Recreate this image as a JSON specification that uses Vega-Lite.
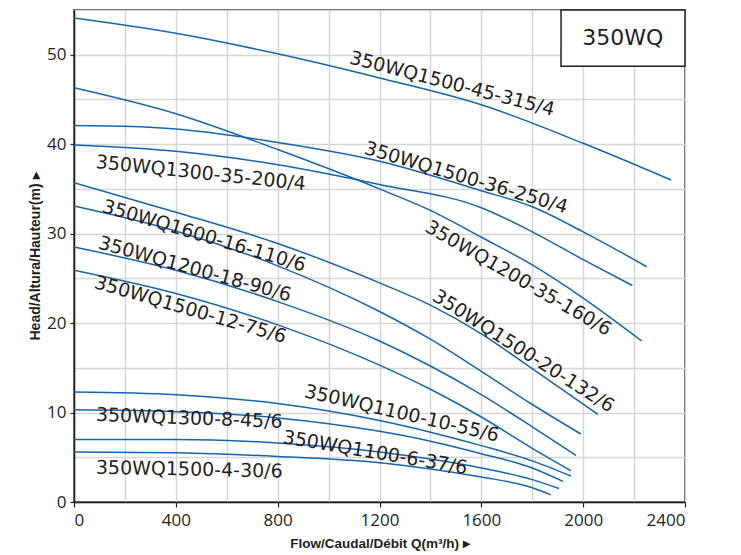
{
  "$schema": "https://vega.github.io/schema/vega-lite/v6.json",
  "width": 611,
  "height": 492,
  "autosize": {"type": "none"},
  "padding": {"left": 74, "top": 10, "right": 56, "bottom": 53},
  "background": "white",
  "config": {
    "view": {"stroke": "#231f20", "strokeWidth": 1.5},
    "font": "DejaVu Sans"
  },
  "datasets": {
    "curves": [
      {"pump": "350WQ1500-45-315/4", "Q": 0, "H": 54.1},
      {"pump": "350WQ1500-45-315/4", "Q": 400, "H": 52.4},
      {"pump": "350WQ1500-45-315/4", "Q": 800, "H": 50.1},
      {"pump": "350WQ1500-45-315/4", "Q": 1200, "H": 47.4},
      {"pump": "350WQ1500-45-315/4", "Q": 1600, "H": 44.4},
      {"pump": "350WQ1500-45-315/4", "Q": 2000, "H": 40.1},
      {"pump": "350WQ1500-45-315/4", "Q": 2345, "H": 36.0},
      {"pump": "350WQ1500-36-250/4", "Q": 0, "H": 42.1},
      {"pump": "350WQ1500-36-250/4", "Q": 200, "H": 42.0},
      {"pump": "350WQ1500-36-250/4", "Q": 400, "H": 41.7},
      {"pump": "350WQ1500-36-250/4", "Q": 650, "H": 40.85},
      {"pump": "350WQ1500-36-250/4", "Q": 800, "H": 40.2},
      {"pump": "350WQ1500-36-250/4", "Q": 1200, "H": 38.1},
      {"pump": "350WQ1500-36-250/4", "Q": 1600, "H": 34.8},
      {"pump": "350WQ1500-36-250/4", "Q": 1800, "H": 33.0},
      {"pump": "350WQ1500-36-250/4", "Q": 2000, "H": 30.2},
      {"pump": "350WQ1500-36-250/4", "Q": 2250, "H": 26.3},
      {"pump": "350WQ1300-35-200/4", "Q": 0, "H": 39.9},
      {"pump": "350WQ1300-35-200/4", "Q": 400, "H": 39.2},
      {"pump": "350WQ1300-35-200/4", "Q": 800, "H": 37.7},
      {"pump": "350WQ1300-35-200/4", "Q": 1200, "H": 35.5},
      {"pump": "350WQ1300-35-200/4", "Q": 1600, "H": 32.9},
      {"pump": "350WQ1300-35-200/4", "Q": 1800, "H": 30.2},
      {"pump": "350WQ1300-35-200/4", "Q": 2000, "H": 27.1},
      {"pump": "350WQ1300-35-200/4", "Q": 2193, "H": 24.2},
      {"pump": "350WQ1200-35-160/6", "Q": 0, "H": 46.3},
      {"pump": "350WQ1200-35-160/6", "Q": 400, "H": 43.4},
      {"pump": "350WQ1200-35-160/6", "Q": 800, "H": 39.4},
      {"pump": "350WQ1200-35-160/6", "Q": 1200, "H": 35.0},
      {"pump": "350WQ1200-35-160/6", "Q": 1400, "H": 32.6},
      {"pump": "350WQ1200-35-160/6", "Q": 1600, "H": 29.6},
      {"pump": "350WQ1200-35-160/6", "Q": 1800, "H": 26.5},
      {"pump": "350WQ1200-35-160/6", "Q": 2000, "H": 22.8},
      {"pump": "350WQ1200-35-160/6", "Q": 2230, "H": 18.0},
      {"pump": "350WQ1500-20-132/6", "Q": 0, "H": 35.7},
      {"pump": "350WQ1500-20-132/6", "Q": 400, "H": 32.4},
      {"pump": "350WQ1500-20-132/6", "Q": 800, "H": 28.9},
      {"pump": "350WQ1500-20-132/6", "Q": 1200, "H": 24.5},
      {"pump": "350WQ1500-20-132/6", "Q": 1400, "H": 22.0},
      {"pump": "350WQ1500-20-132/6", "Q": 1600, "H": 18.8},
      {"pump": "350WQ1500-20-132/6", "Q": 1800, "H": 14.9},
      {"pump": "350WQ1500-20-132/6", "Q": 2058, "H": 9.8},
      {"pump": "350WQ1600-16-110/6", "Q": 0, "H": 33.1},
      {"pump": "350WQ1600-16-110/6", "Q": 400, "H": 30.3},
      {"pump": "350WQ1600-16-110/6", "Q": 800, "H": 26.4},
      {"pump": "350WQ1600-16-110/6", "Q": 1200, "H": 21.3},
      {"pump": "350WQ1600-16-110/6", "Q": 1400, "H": 18.2},
      {"pump": "350WQ1600-16-110/6", "Q": 1600, "H": 14.6},
      {"pump": "350WQ1600-16-110/6", "Q": 1800, "H": 10.9},
      {"pump": "350WQ1600-16-110/6", "Q": 1991, "H": 7.6},
      {"pump": "350WQ1200-18-90/6", "Q": 0, "H": 28.5},
      {"pump": "350WQ1200-18-90/6", "Q": 400, "H": 25.9},
      {"pump": "350WQ1200-18-90/6", "Q": 800, "H": 22.4},
      {"pump": "350WQ1200-18-90/6", "Q": 1200, "H": 18.0},
      {"pump": "350WQ1200-18-90/6", "Q": 1400, "H": 15.2},
      {"pump": "350WQ1200-18-90/6", "Q": 1600, "H": 12.0},
      {"pump": "350WQ1200-18-90/6", "Q": 1800, "H": 8.4},
      {"pump": "350WQ1200-18-90/6", "Q": 1972, "H": 5.2},
      {"pump": "350WQ1500-12-75/6", "Q": 0, "H": 25.9},
      {"pump": "350WQ1500-12-75/6", "Q": 400, "H": 23.3},
      {"pump": "350WQ1500-12-75/6", "Q": 800, "H": 19.8},
      {"pump": "350WQ1500-12-75/6", "Q": 1200, "H": 15.3},
      {"pump": "350WQ1500-12-75/6", "Q": 1400, "H": 12.6},
      {"pump": "350WQ1500-12-75/6", "Q": 1600, "H": 9.5},
      {"pump": "350WQ1500-12-75/6", "Q": 1800, "H": 6.0},
      {"pump": "350WQ1500-12-75/6", "Q": 1952, "H": 3.5},
      {"pump": "350WQ1100-10-55/6", "Q": 0, "H": 12.3},
      {"pump": "350WQ1100-10-55/6", "Q": 400, "H": 12.0},
      {"pump": "350WQ1100-10-55/6", "Q": 800, "H": 11.0},
      {"pump": "350WQ1100-10-55/6", "Q": 1200, "H": 9.1},
      {"pump": "350WQ1100-10-55/6", "Q": 1400, "H": 7.8},
      {"pump": "350WQ1100-10-55/6", "Q": 1600, "H": 6.3},
      {"pump": "350WQ1100-10-55/6", "Q": 1800, "H": 4.6},
      {"pump": "350WQ1100-10-55/6", "Q": 1952, "H": 2.9},
      {"pump": "350WQ1300-8-45/6", "Q": 0, "H": 10.3},
      {"pump": "350WQ1300-8-45/6", "Q": 400, "H": 10.1},
      {"pump": "350WQ1300-8-45/6", "Q": 800, "H": 9.4},
      {"pump": "350WQ1300-8-45/6", "Q": 1200, "H": 7.9},
      {"pump": "350WQ1300-8-45/6", "Q": 1400, "H": 6.8},
      {"pump": "350WQ1300-8-45/6", "Q": 1600, "H": 5.4},
      {"pump": "350WQ1300-8-45/6", "Q": 1800, "H": 3.8},
      {"pump": "350WQ1300-8-45/6", "Q": 1921, "H": 2.3},
      {"pump": "350WQ1100-6-37/6", "Q": 0, "H": 7.0},
      {"pump": "350WQ1100-6-37/6", "Q": 400, "H": 7.0},
      {"pump": "350WQ1100-6-37/6", "Q": 800, "H": 6.6},
      {"pump": "350WQ1100-6-37/6", "Q": 1200, "H": 5.6},
      {"pump": "350WQ1100-6-37/6", "Q": 1400, "H": 4.8},
      {"pump": "350WQ1100-6-37/6", "Q": 1600, "H": 3.8},
      {"pump": "350WQ1100-6-37/6", "Q": 1800, "H": 2.5},
      {"pump": "350WQ1100-6-37/6", "Q": 1905, "H": 1.5},
      {"pump": "350WQ1500-4-30/6", "Q": 0, "H": 5.6},
      {"pump": "350WQ1500-4-30/6", "Q": 400, "H": 5.5},
      {"pump": "350WQ1500-4-30/6", "Q": 800, "H": 5.1},
      {"pump": "350WQ1500-4-30/6", "Q": 1200, "H": 4.4},
      {"pump": "350WQ1500-4-30/6", "Q": 1400, "H": 3.7},
      {"pump": "350WQ1500-4-30/6", "Q": 1600, "H": 2.8},
      {"pump": "350WQ1500-4-30/6", "Q": 1800, "H": 1.6},
      {"pump": "350WQ1500-4-30/6", "Q": 1873, "H": 0.8}
    ],
    "labels": [
      {"pump": "350WQ1500-45-315/4"},
      {"pump": "350WQ1500-36-250/4"},
      {"pump": "350WQ1300-35-200/4"},
      {"pump": "350WQ1200-35-160/6"},
      {"pump": "350WQ1600-16-110/6"},
      {"pump": "350WQ1200-18-90/6"},
      {"pump": "350WQ1500-20-132/6"},
      {"pump": "350WQ1500-12-75/6"},
      {"pump": "350WQ1100-10-55/6"},
      {"pump": "350WQ1300-8-45/6"},
      {"pump": "350WQ1100-6-37/6"},
      {"pump": "350WQ1500-4-30/6"}
    ],
    "box": [{"title": "350WQ"}]
  },
  "layer": [
    {
      "data": {"name": "curves"},
      "mark": {"type": "line", "color": "#1565b0", "strokeWidth": 1.5, "interpolate": "monotone", "clip": true},
      "encoding": {
        "x": {
          "field": "Q", "type": "quantitative",
          "scale": {"domain": [0, 2400], "nice": false, "zero": false},
          "axis": {
            "values": [0, 200, 400, 600, 800, 1000, 1200, 1400, 1600, 1800, 2000, 2200, 2400],
            "format": "d",
            "labelExpr": "datum.value % 400 === 0 ? datum.label : ''",
            "grid": true, "gridColor": "#d6d6d6", "gridWidth": 1.5,
            "tickOpacity": {"condition": {"test": "datum.value % 400 === 0", "value": 1}, "value": 0},
            "tickColor": "#231f20", "tickSize": 5, "tickWidth": 1.2,
            "domainColor": "#231f20", "domainWidth": 1.5,
            "labelFont": "Open Sans", "labelFontSize": 17, "labelColor": "#231f20", "labelPadding": 5,
            "title": "Flow/Caudal/Débit Q(m³/h) ▸",
            "titleFont": "Liberation Sans", "titleFontSize": 13.5, "titleFontWeight": "bold", "titleColor": "#231f20",
            "titlePadding": 8
          }
        },
        "y": {
          "field": "H", "type": "quantitative",
          "scale": {"domain": [0, 55], "nice": false, "zero": false},
          "axis": {
            "values": [0, 5, 10, 15, 20, 25, 30, 35, 40, 45, 50, 55],
            "labelExpr": "datum.value % 10 === 0 ? datum.label : ''",
            "grid": true, "gridColor": "#d6d6d6", "gridWidth": 1.5,
            "tickOpacity": {"condition": {"test": "datum.value % 10 === 0", "value": 1}, "value": 0},
            "tickColor": "#231f20", "tickSize": 4, "tickWidth": 1.2,
            "domainColor": "#231f20", "domainWidth": 1.5,
            "labelFont": "Open Sans", "labelFontSize": 17, "labelColor": "#231f20", "labelPadding": 4,
            "title": "Head/Altura/Hauteur(m) ▸",
            "titleFont": "Liberation Sans", "titleFontSize": 14, "titleFontWeight": "bold", "titleColor": "#231f20",
            "titlePadding": 4
          }
        },
        "detail": {"field": "pump"}
      }
    },
    {
      "data": {"name": "labels"},
      "transform": [{"filter": "datum.pump === '350WQ1500-45-315/4'"}],
      "mark": {"type": "text", "angle": 14.5, "align": "left", "baseline": "middle", "fontSize": 19, "font": "DejaVu Sans", "color": "#231f20"},
      "encoding": {"x": {"datum": 1084}, "y": {"datum": 49.7}, "text": {"field": "pump"}}
    },
    {
      "data": {"name": "labels"},
      "transform": [{"filter": "datum.pump === '350WQ1500-36-250/4'"}],
      "mark": {"type": "text", "angle": 16.5, "align": "left", "baseline": "middle", "fontSize": 19, "font": "DejaVu Sans", "color": "#231f20"},
      "encoding": {"x": {"datum": 1143}, "y": {"datum": 39.6}, "text": {"field": "pump"}}
    },
    {
      "data": {"name": "labels"},
      "transform": [{"filter": "datum.pump === '350WQ1300-35-200/4'"}],
      "mark": {"type": "text", "angle": 6, "align": "left", "baseline": "middle", "fontSize": 19, "font": "DejaVu Sans", "color": "#231f20"},
      "encoding": {"x": {"datum": 86}, "y": {"datum": 38.0}, "text": {"field": "pump"}}
    },
    {
      "data": {"name": "labels"},
      "transform": [{"filter": "datum.pump === '350WQ1200-35-160/6'"}],
      "mark": {"type": "text", "angle": 30, "align": "left", "baseline": "middle", "fontSize": 19, "font": "DejaVu Sans", "color": "#231f20"},
      "encoding": {"x": {"datum": 1387}, "y": {"datum": 30.9}, "text": {"field": "pump"}}
    },
    {
      "data": {"name": "labels"},
      "transform": [{"filter": "datum.pump === '350WQ1600-16-110/6'"}],
      "mark": {"type": "text", "angle": 16.5, "align": "left", "baseline": "middle", "fontSize": 19, "font": "DejaVu Sans", "color": "#231f20"},
      "encoding": {"x": {"datum": 114}, "y": {"datum": 33.1}, "text": {"field": "pump"}}
    },
    {
      "data": {"name": "labels"},
      "transform": [{"filter": "datum.pump === '350WQ1200-18-90/6'"}],
      "mark": {"type": "text", "angle": 15.5, "align": "left", "baseline": "middle", "fontSize": 19, "font": "DejaVu Sans", "color": "#231f20"},
      "encoding": {"x": {"datum": 98}, "y": {"datum": 29.0}, "text": {"field": "pump"}}
    },
    {
      "data": {"name": "labels"},
      "transform": [{"filter": "datum.pump === '350WQ1500-20-132/6'"}],
      "mark": {"type": "text", "angle": 32.5, "align": "left", "baseline": "middle", "fontSize": 19, "font": "DejaVu Sans", "color": "#231f20"},
      "encoding": {"x": {"datum": 1416}, "y": {"datum": 23.2}, "text": {"field": "pump"}}
    },
    {
      "data": {"name": "labels"},
      "transform": [{"filter": "datum.pump === '350WQ1500-12-75/6'"}],
      "mark": {"type": "text", "angle": 16.2, "align": "left", "baseline": "middle", "fontSize": 19, "font": "DejaVu Sans", "color": "#231f20"},
      "encoding": {"x": {"datum": 82}, "y": {"datum": 24.6}, "text": {"field": "pump"}}
    },
    {
      "data": {"name": "labels"},
      "transform": [{"filter": "datum.pump === '350WQ1100-10-55/6'"}],
      "mark": {"type": "text", "angle": 13, "align": "left", "baseline": "middle", "fontSize": 19, "font": "DejaVu Sans", "color": "#231f20"},
      "encoding": {"x": {"datum": 907}, "y": {"datum": 12.4}, "text": {"field": "pump"}}
    },
    {
      "data": {"name": "labels"},
      "transform": [{"filter": "datum.pump === '350WQ1300-8-45/6'"}],
      "mark": {"type": "text", "angle": 2.2, "align": "left", "baseline": "middle", "fontSize": 19, "font": "DejaVu Sans", "color": "#231f20"},
      "encoding": {"x": {"datum": 86}, "y": {"datum": 9.75}, "text": {"field": "pump"}}
    },
    {
      "data": {"name": "labels"},
      "transform": [{"filter": "datum.pump === '350WQ1100-6-37/6'"}],
      "mark": {"type": "text", "angle": 9.6, "align": "left", "baseline": "middle", "fontSize": 19, "font": "DejaVu Sans", "color": "#231f20"},
      "encoding": {"x": {"datum": 821}, "y": {"datum": 7.25}, "text": {"field": "pump"}}
    },
    {
      "data": {"name": "labels"},
      "transform": [{"filter": "datum.pump === '350WQ1500-4-30/6'"}],
      "mark": {"type": "text", "angle": 1.2, "align": "left", "baseline": "middle", "fontSize": 19, "font": "DejaVu Sans", "color": "#231f20"},
      "encoding": {"x": {"datum": 86}, "y": {"datum": 3.84}, "text": {"field": "pump"}}
    },
    {
      "data": {"name": "box"},
      "mark": {"type": "rect", "fill": "white", "stroke": "#231f20", "strokeWidth": 1.5},
      "encoding": {"x": {"datum": 1913}, "x2": {"datum": 2400}, "y": {"datum": 48.7}, "y2": {"datum": 55}}
    },
    {
      "data": {"name": "box"},
      "mark": {"type": "text", "align": "center", "baseline": "middle", "fontSize": 22, "font": "DejaVu Sans", "color": "#231f20"},
      "encoding": {"x": {"datum": 2156}, "y": {"datum": 51.85}, "text": {"field": "title"}}
    }
  ]
}
